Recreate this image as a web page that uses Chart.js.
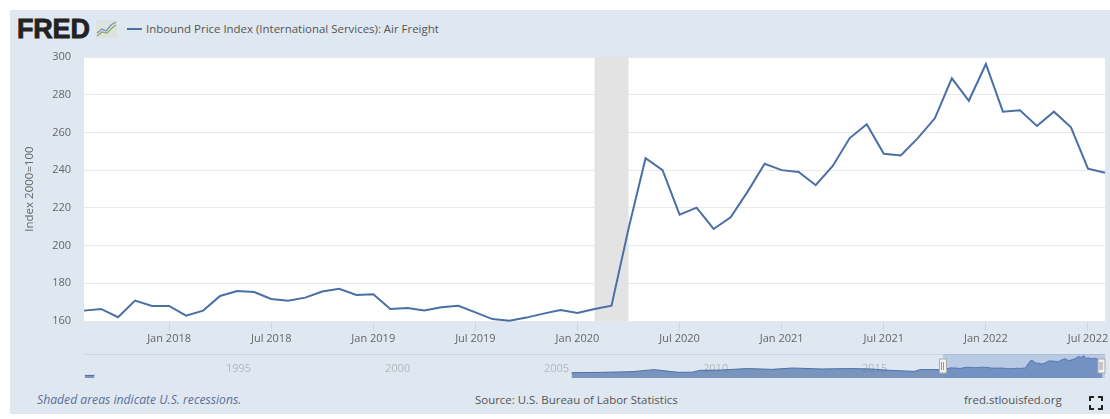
<!DOCTYPE html>
<html><head><meta charset="utf-8">
<script src="https://cdn.jsdelivr.net/npm/chart.js@4"></script>
<style>
html,body{margin:0;padding:0;background:#fff;overflow:hidden}
#page{position:absolute;left:10px;top:10px;width:1100px;height:404px;background:#dfe7f0}
canvas{position:absolute}
.t{position:absolute;font-family:"Open Sans",sans-serif;font-size:11.45px;white-space:nowrap;line-height:16px}
</style></head><body>
<div id="page"></div>
<div class="t" style="left:17px;top:15px;font:900 27px/29px 'Liberation Sans',sans-serif;color:#222;letter-spacing:-.2px;-webkit-text-stroke:.8px #222">FRED</div>
<svg style="position:absolute;left:96px;top:20px" width="22" height="19"><rect width="21" height="18" fill="#dfe3df"/><path d="M1 13L6 9L10 11L15 5L20 2" fill="none" stroke="#6f93bd" stroke-width="1.2"/><path d="M1 16L6 12L11 13L16 8L20 5" fill="none" stroke="#86a95e" stroke-width="1.2"/></svg>
<div style="position:absolute;left:127px;top:28px;width:15px;height:2px;background:#4572a7"></div>
<div class="t" style="left:146px;top:21px;color:#555">Inbound Price Index (International Services): Air Freight</div>
<div class="t" style="left:37px;top:392px;color:#5b6f9c;font-style:italic;font-size:12.2px">Shaded areas indicate U.S. recessions.</div>
<div class="t" style="left:475px;top:392px;color:#555">Source: U.S. Bureau of Labor Statistics</div>
<div class="t" style="left:964px;top:392px;color:#555">fred.stlouisfed.org</div>
<svg style="position:absolute;left:1089px;top:396px" width="14" height="14"><path d="M1 5V1H5M9 1H13V5M13 9V13H9M5 13H1V9" fill="none" stroke="#222" stroke-width="2"/></svg>
<canvas id="nav" width="1110" height="419" style="left:0;top:0;width:1110px;height:419px"></canvas>
<canvas id="main" width="1110" height="419" style="left:0;top:0;width:1110px;height:419px"></canvas>
<script>
const months=["Aug 2017","Sep 2017","Oct 2017","Nov 2017","Dec 2017",
"Jan 2018","Feb 2018","Mar 2018","Apr 2018","May 2018","Jun 2018","Jul 2018","Aug 2018","Sep 2018","Oct 2018","Nov 2018","Dec 2018",
"Jan 2019","Feb 2019","Mar 2019","Apr 2019","May 2019","Jun 2019","Jul 2019","Aug 2019","Sep 2019","Oct 2019","Nov 2019","Dec 2019",
"Jan 2020","Feb 2020","Mar 2020","Apr 2020","May 2020","Jun 2020","Jul 2020","Aug 2020","Sep 2020","Oct 2020","Nov 2020","Dec 2020",
"Jan 2021","Feb 2021","Mar 2021","Apr 2021","May 2021","Jun 2021","Jul 2021","Aug 2021","Sep 2021","Oct 2021","Nov 2021","Dec 2021",
"Jan 2022","Feb 2022","Mar 2022","Apr 2022","May 2022","Jun 2022","Jul 2022","Aug 2022"];
const airFreight=[165.5,166.4,162,170.8,168,
168,162.8,165.5,173.3,175.9,175.4,171.7,170.8,172.4,175.6,177.1,173.8,
174.2,166.4,166.9,165.6,167.3,168.1,164.6,161,160.2,161.8,163.9,165.8,
164.2,166.4,168.1,209,246.3,240,216.4,220.1,208.8,215,228.6,243.4,
240,239,232,242.2,257,264.3,248.7,247.8,257,267.5,288.7,276.8,
296.3,271,271.7,263.4,271,262.7,240.8,238.6];
const xTickLabels=["Jan 2018","Jul 2018","Jan 2019","Jul 2019","Jan 2020","Jul 2020","Jan 2021","Jul 2021","Jan 2022","Jul 2022"];
const yTicks=[160,180,200,220,240,260,280,300];
const recession=["Feb 2020","Apr 2020"];
const historyYears=[1990.6,1990.9,null,2005.9,2006.9,2007.8,2008.5,2009.26,2009.7,2009.94,2010.6,2011.4,2012.2,2012.85,2013.75,2014.65,2015.3,2015.9,2016.67,2016.85,2017.5];
const historyValues=[91,91,null,119,123,130,151,123,125,144,147,162,154,168,158,162,158,144,133,151,151];
const navTickYears=[1995,2000,2005,2010,2015];
const rangeYears=[2017.58,2022.67];

const FONT="'Open Sans',sans-serif", LINE="#4a6fa5";

const backdrop={id:"backdrop",beforeDraw(c){const a=c.chartArea,g=c.ctx;g.save();g.fillStyle="#fff";g.fillRect(a.left,a.top,a.right-a.left,a.bottom-a.top);g.restore();},
 beforeDatasetsDraw(c){const a=c.chartArea,g=c.ctx,x=c.scales.x;g.save();g.fillStyle="#e3e3e3";
  const l=x.getPixelForValue(months.indexOf(recession[0])),r=x.getPixelForValue(months.indexOf(recession[1]));
  g.fillRect(l,a.top,r-l,a.bottom-a.top);g.restore();}};

new Chart(document.getElementById("main"),{type:"line",
 data:{labels:months,datasets:[{label:"Inbound Price Index (International Services): Air Freight",data:airFreight,borderColor:LINE,borderWidth:2,pointRadius:0,tension:0,borderJoinStyle:"miter",clip:false}]},
 plugins:[backdrop],
 options:{responsive:false,animation:false,devicePixelRatio:1,
  layout:{padding:{left:0,right:5,top:57,bottom:0}},
  plugins:{legend:{display:false},tooltip:{enabled:false}},
  scales:{
   x:{type:"category",offset:false,afterFit(s){s.height=98;},
      afterBuildTicks(s){s.ticks=s.ticks.filter(t=>xTickLabels.includes(months[t.value]));},
      grid:{drawOnChartArea:false,drawTicks:true,tickLength:10,color:"#cdd6e1"},border:{display:false},
      ticks:{autoSkip:false,maxRotation:0,padding:1,color:"#666",font:{family:FONT,size:11}}},
   y:{min:160,max:300,afterFit(s){s.width=84;},
      afterBuildTicks(s){s.ticks=yTicks.map(v=>({value:v}));},
      grid:{color:"#e9e9e9",lineWidth:1,drawTicks:false},border:{display:false},
      ticks:{padding:13,color:"#666",font:{family:FONT,size:11}},
      title:{display:true,text:"Index 2000=100",color:"#666",font:{family:FONT,size:11.5},padding:{top:23,bottom:0}}}
  }}});

const monthYear=m=>{const [n,y]=m.split(" ");return +y+["Jan","Feb","Mar","Apr","May","Jun","Jul","Aug","Sep","Oct","Nov","Dec"].indexOf(n)/12;};
const navData=historyYears.map((y,i)=>({x:y===null?2000:y,y:historyValues[i]})).concat(months.map((m,i)=>({x:monthYear(m),y:airFreight[i]})));

const navDecor={id:"navDecor",beforeDraw(c){const g=c.ctx,a=c.chartArea;g.save();g.strokeStyle="#ccd5e0";g.beginPath();g.moveTo(a.left,a.top+.5);g.lineTo(a.right,a.top+.5);g.stroke();g.restore();},
 beforeDatasetsDraw(c){const g=c.ctx,x=c.scales.x;g.save();g.fillStyle="#b4b9bf";g.font="11px "+FONT;g.textAlign="left";g.textBaseline="middle";
  navTickYears.forEach(y=>g.fillText(String(y),x.getPixelForValue(y)+1,369));g.restore();},
 afterDatasetsDraw(c){const g=c.ctx,a=c.chartArea,x=c.scales.x,l=x.getPixelForValue(rangeYears[0]),r=x.getPixelForValue(rangeYears[1]);
  g.save();g.fillStyle="rgba(100,135,205,.30)";g.fillRect(l,a.top,r-l,a.bottom-a.top);
  [l,r].forEach(p=>{const px=Math.round(p)-.5,hx=Math.min(px,a.right-4);g.fillStyle="#f2f2f2";g.strokeStyle="#aaa";g.fillRect(hx-3,a.top+5,7,14);g.strokeRect(hx-3,a.top+5,7,14);
   g.strokeStyle="#999";g.beginPath();g.moveTo(hx-1,a.top+8);g.lineTo(hx-1,a.top+16);g.moveTo(hx+1,a.top+8);g.lineTo(hx+1,a.top+16);g.stroke();});
  g.restore();}};

new Chart(document.getElementById("nav"),{type:"line",
 data:{datasets:[{label:"Navigator",data:navData,parsing:false,spanGaps:false,borderColor:"#4a6fa5",borderWidth:1,backgroundColor:"rgba(74,111,165,.68)",fill:"start",pointRadius:0,tension:0}]},
 plugins:[navDecor],
 options:{responsive:false,animation:false,devicePixelRatio:1,
  layout:{padding:{left:84,right:5,top:354,bottom:41}},
  plugins:{legend:{display:false},tooltip:{enabled:false}},
  scales:{
   x:{type:"linear",display:false,min:1990.57,max:2022.67},
   y:{display:false,min:64,max:314}
  }}});
</script>
</body></html>
